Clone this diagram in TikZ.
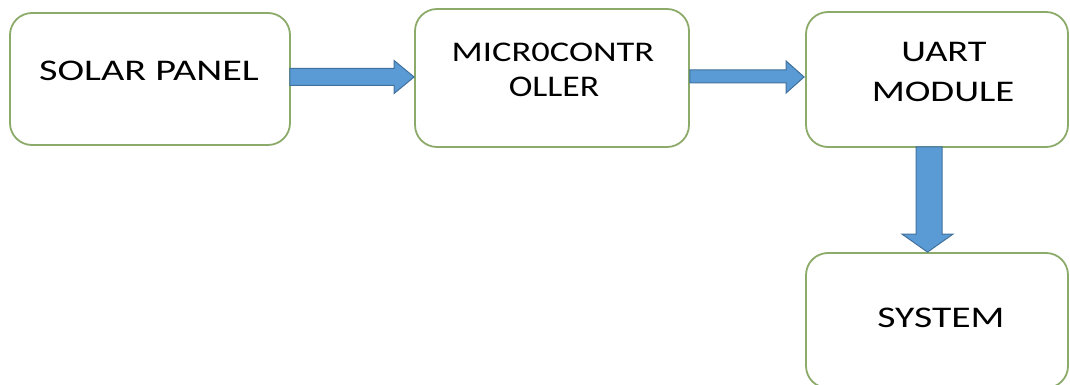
\documentclass[tikz,border=0pt]{standalone}
\usepackage{fontspec}
\setmainfont{Carlito}
\usetikzlibrary{calc}
\definecolor{boxgreen}{RGB}{140,170,105}
\definecolor{arrowblue}{RGB}{91,155,213}
\definecolor{arrowedge}{RGB}{65,113,156}
\tikzset{
  block/.style={draw=boxgreen, line width=1.8pt, rounded corners=22pt, fill=white, inner sep=0pt},
  lbl/.style={anchor=base, inner sep=0pt, font=\fontsize{30}{30}\selectfont},
  fatarrow/.style={fill=arrowblue, draw=arrowedge, line width=1pt, line join=miter}
}
\newcommand{\st}[2]{\scalebox{#1}[1]{#2}}
\begin{document}
\begin{tikzpicture}[x=1pt,y=-1pt]
\useasboundingbox (0,0) rectangle (1070,385);
\begin{scope}
\clip (0,0) rectangle (1070,385);
\node[block, minimum width=280pt, minimum height=132pt] (sp) at (150,79) {};
\node[block, minimum width=274pt, minimum height=138pt] (mc) at (552,78) {};
\node[block, minimum width=262pt, minimum height=135pt] (ua) at (937,79.5) {};
\node[block, minimum width=262pt, minimum height=135pt] (sy) at (937,320.5) {};
\end{scope}
\node[lbl] (spt) at (149,81) {\st{1.34}{SOLAR PANEL}};
\node[lbl, font=\fontsize{28.5}{28.5}\selectfont] (mct1) at (553,62) {\st{1.28}{MICR0CONTR}};
\node[lbl] (mct2) at (554,97) {\st{1.19}{OLLER}};
\node[lbl] (uat1) at (944,62) {\st{1.28}{UART}};
\node[lbl] (uat2) at (943,102) {\st{1.29}{MODULE}};
\node[lbl] (syt) at (941,327) {\st{1.32}{SYSTEM}};
% arrow solar panel -> microcontroller
\path[fatarrow] ($(sp.east)+(-1,-10.5)$) -- ($(mc.west)+(-20,-9.5)$) -- ($(mc.west)+(-20,-17.5)$)
  -- ($(mc.west)+(0,-1)$) -- ($(mc.west)+(-20,15.5)$) -- ($(mc.west)+(-20,7.5)$)
  -- ($(sp.east)+(-1,6.5)$) -- cycle;
% arrow microcontroller -> uart
\path[fatarrow] ($(mc.east)+(0,-8)$) -- ($(ua.west)+(-19,-9.5)$) -- ($(ua.west)+(-19,-18.5)$)
  -- ($(ua.west)+(-1,-2.5)$) -- ($(ua.west)+(-19,13.5)$) -- ($(ua.west)+(-19,3.5)$)
  -- ($(mc.east)+(0,5)$) -- cycle;
% arrow uart -> system
\path[fatarrow] ($(ua.south)+(-21,-1)$) -- ($(sy.north)+(-21,-18)$) -- ($(sy.north)+(-35,-18)$)
  -- ($(sy.north)+(-9.5,0)$) -- ($(sy.north)+(16,-18)$) -- ($(sy.north)+(5,-18)$)
  -- ($(ua.south)+(5,-1)$) -- cycle;
\end{tikzpicture}
\end{document}
